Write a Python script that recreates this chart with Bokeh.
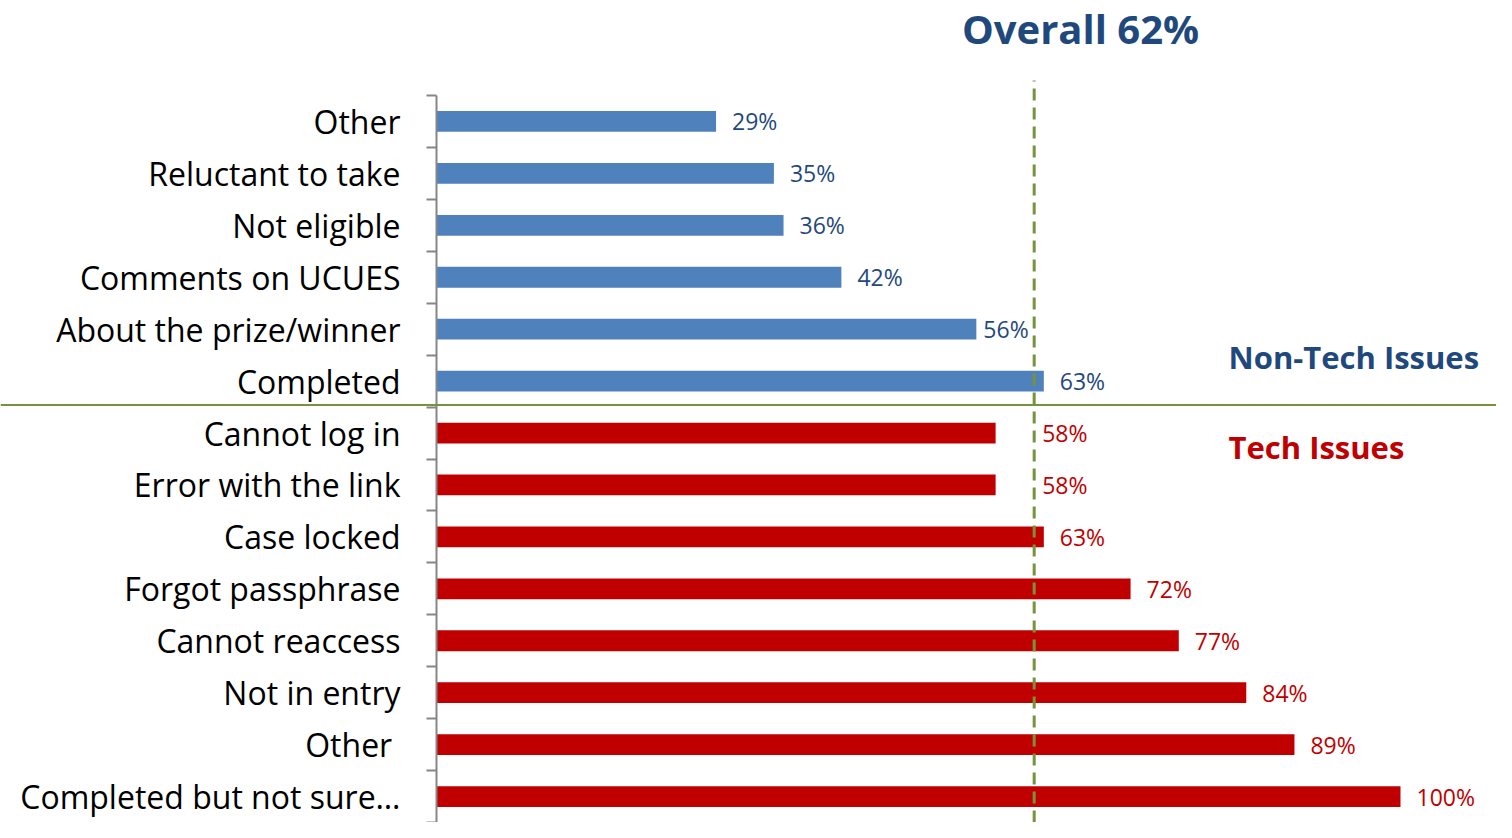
from bokeh.plotting import figure
from bokeh.models import ColumnDataSource, Range1d, LinearAxis, FixedTicker, Span, Label
from bokeh.core.properties import value
from bokeh.embed import file_html
from bokeh.resources import INLINE

# ---------------- data (top to bottom) ----------------
non_tech_categories = ["Other", "Reluctant to take", "Not eligible", "Comments on UCUES",
                       "About the prize/winner", "Completed"]
non_tech_values = [29, 35, 36, 42, 56, 63]
tech_categories = ["Cannot log in", "Error with the link", "Case locked", "Forgot passphrase",
                   "Cannot reaccess", "Not in entry", "Other ", "Completed but not sure\u2026"]
tech_values = [58, 58, 63, 72, 77, 84, 89, 100]
overall_value = 62
title_text = "Overall 62%"
group_names = ["Non-Tech Issues", "Tech Issues"]

# ---------------- styling ----------------
BLUE_BAR = "#4F81BD"
DARK_BLUE = "#1F497D"
RED = "#C00000"
GREEN = "#77933C"
AXIS_GRAY = "#868686"
FONT = "Open Sans"

categories = non_tech_categories + tech_categories
values = non_tech_values + tech_values
n = len(categories)
ypos = [n - 1 - i for i in range(n)]
bar_colors = [BLUE_BAR] * len(non_tech_values) + [RED] * len(tech_values)
text_colors = [DARK_BLUE] * len(non_tech_values) + [RED] * len(tech_values)
labels = [f"{v}%" for v in values]

W, H = 1496, 822
PX_PER_PCT = 9.64
ZERO_PX = 436
TOP_PAD = 95
BOTTOM_PAD = 0
ROW = (H - TOP_PAD - BOTTOM_PAD) / n


def _label_anchor(v):
    gap = overall_value - v
    if 0 < gap <= 5:          # would sit on the line: push just past it
        return overall_value, 8
    if 5 < gap <= 8:          # just left of the line: tuck in closer
        return v, 7
    return v, 16


label_x = [_label_anchor(v)[0] for v in values]
label_off = [_label_anchor(v)[1] for v in values]

src = ColumnDataSource(dict(y=ypos, value=values, label=labels, label_x=label_x,
                            label_off=label_off, bar_color=bar_colors,
                            text_color=text_colors))

p = figure(width=W, height=H, output_backend="svg", toolbar_location=None,
           x_range=Range1d(-ZERO_PX / PX_PER_PCT, (W - ZERO_PX) / PX_PER_PCT),
           y_range=Range1d(-0.5 - BOTTOM_PAD / ROW, n - 0.5 + TOP_PAD / ROW),
           x_axis_location=None, y_axis_location=None,
           min_border=0, outline_line_color=None)
p.xgrid.visible = False
p.ygrid.visible = False
p.background_fill_color = "white"
p.border_fill_color = "white"

# bars
p.hbar(y="y", left=0, right="value", height=0.4, fill_color="bar_color",
       line_color=None, source=src)

# category labels axis (ticks at row centres)
label_axis = LinearAxis(
    ticker=FixedTicker(ticks=ypos),
    major_label_overrides={y: c for y, c in zip(ypos, categories)},
    fixed_location=0,
    axis_line_color=None,
    major_tick_line_color=None,
    minor_tick_line_color=None,
    major_tick_out=0, major_tick_in=0,
    major_label_standoff=36,
    major_label_text_font=FONT,
    major_label_text_font_size="32px",
    major_label_text_color="black",
)
p.add_layout(label_axis, "left")

# axis line with ticks at row boundaries
bound_axis = LinearAxis(
    ticker=FixedTicker(ticks=[i - 0.5 for i in range(n + 1)]),
    fixed_location=0,
    bounds=(-0.5, n - 0.5),
    axis_line_color=AXIS_GRAY, axis_line_width=2,
    major_tick_line_color=AXIS_GRAY, major_tick_line_width=2,
    major_tick_out=10, major_tick_in=0,
    minor_tick_line_color=None,
    major_label_text_font_size="0px",
    major_label_text_alpha=0,
)
p.add_layout(bound_axis, "left")

# separator between the two groups
p.add_layout(Span(location=len(tech_values) - 0.5 + 2 / ROW, dimension="width",
                  line_color=GREEN, line_width=2))

# overall dashed reference line
p.segment(x0=[overall_value], x1=[overall_value],
          y0=[p.y_range.start], y1=[n - 0.5 + 15 / ROW],
          line_color=GREEN, line_width=3, line_dash="12 7")

# value labels
p.text(x="label_x", y="y", text="label", x_offset="label_off", text_baseline="middle",
       text_align="left", text_font=value(FONT), text_font_size="23px",
       text_color="text_color", source=src)

# titles / group names
p.add_layout(Label(x=1080, y=H - 28, x_units="screen", y_units="screen",
                   text=title_text, text_align="center", text_baseline="middle",
                   text_font=FONT, text_font_style="bold", text_font_size="40px",
                   text_color=DARK_BLUE))
p.add_layout(Label(x=1228, y=H - 356, x_units="screen", y_units="screen",
                   text=group_names[0], text_align="left", text_baseline="middle",
                   text_font=FONT, text_font_style="bold", text_font_size="31px",
                   text_color=DARK_BLUE))
p.add_layout(Label(x=1228, y=H - 446, x_units="screen", y_units="screen",
                   text=group_names[1], text_align="left", text_baseline="middle",
                   text_font=FONT, text_font_style="bold", text_font_size="31px",
                   text_color=RED))

open("out.html", "w").write(file_html(p, INLINE))
